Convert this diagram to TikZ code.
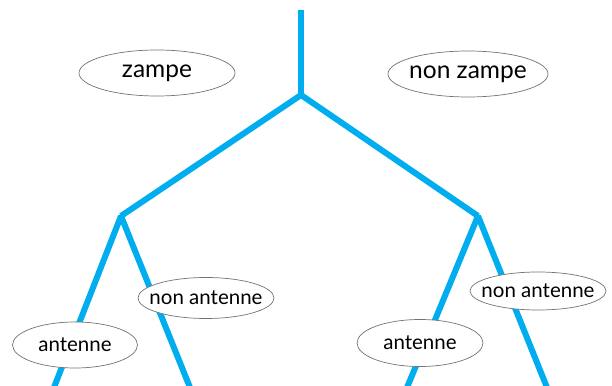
\documentclass[tikz,border=0pt]{standalone}
\usepackage{fontspec}
\setmainfont{Lato}
\usetikzlibrary{shapes.geometric}
\definecolor{branchcyan}{RGB}{0,174,239}
\tikzset{
    branch/.style={draw=branchcyan, line width=6pt, line join=bevel},
    choice/.style={ellipse, draw=black!55, line width=0.7pt, fill=white, inner sep=0pt},
    bigtext/.style={font=\fontsize{24.5}{24.5}\selectfont},
    smalltext/.style={font=\fontsize{20.5}{20.5}\selectfont}
}
\begin{document}
\begin{tikzpicture}[x=1pt, y=1pt]
        \useasboundingbox (0,0) rectangle (612,385);
        \clip (0,0) rectangle (612,385);
        % tree points
        \coordinate (Top) at (301,375);
        \coordinate (Root) at (301,290);
        \coordinate (Left) at (121,169);
        \coordinate (Right) at (478,169);
        \coordinate (LeftA) at (53,-5);
        \coordinate (LeftB) at (191,-5);
        \coordinate (RightA) at (406,-5);
        \coordinate (RightB) at (548,-5);
        % branches
        \draw[branch] (Top) -- (Root);
        \draw[branch] (Left) -- (Root) -- (Right);
        \draw[branch] (LeftA) -- (Left) -- (LeftB);
        \draw[branch] (RightA) -- (Right) -- (RightB);
        % labels
        \node[choice, minimum width=156pt, minimum height=46pt,
            label={[bigtext]center:zampe}] (Zampe) at (157,312) {};
        \node[choice, minimum width=160pt, minimum height=46pt,
            label={[bigtext]center:non zampe}] (NonZampe) at (468,311) {};
        \node[choice, minimum width=136pt, minimum height=41pt,
            label={[smalltext]center:non antenne}] (NonAntenneL) at (206,87) {};
        \node[choice, minimum width=125pt, minimum height=46pt,
            label={[smalltext]center:antenne}] (AntenneL) at (75,40) {};
        \node[choice, minimum width=136pt, minimum height=38pt,
            label={[smalltext]center:non antenne}] (NonAntenneR) at (538,94) {};
        \node[choice, minimum width=126pt, minimum height=47pt,
            label={[smalltext]center:antenne}] (AntenneR) at (420,42) {};
    \end{tikzpicture}
\end{document}
